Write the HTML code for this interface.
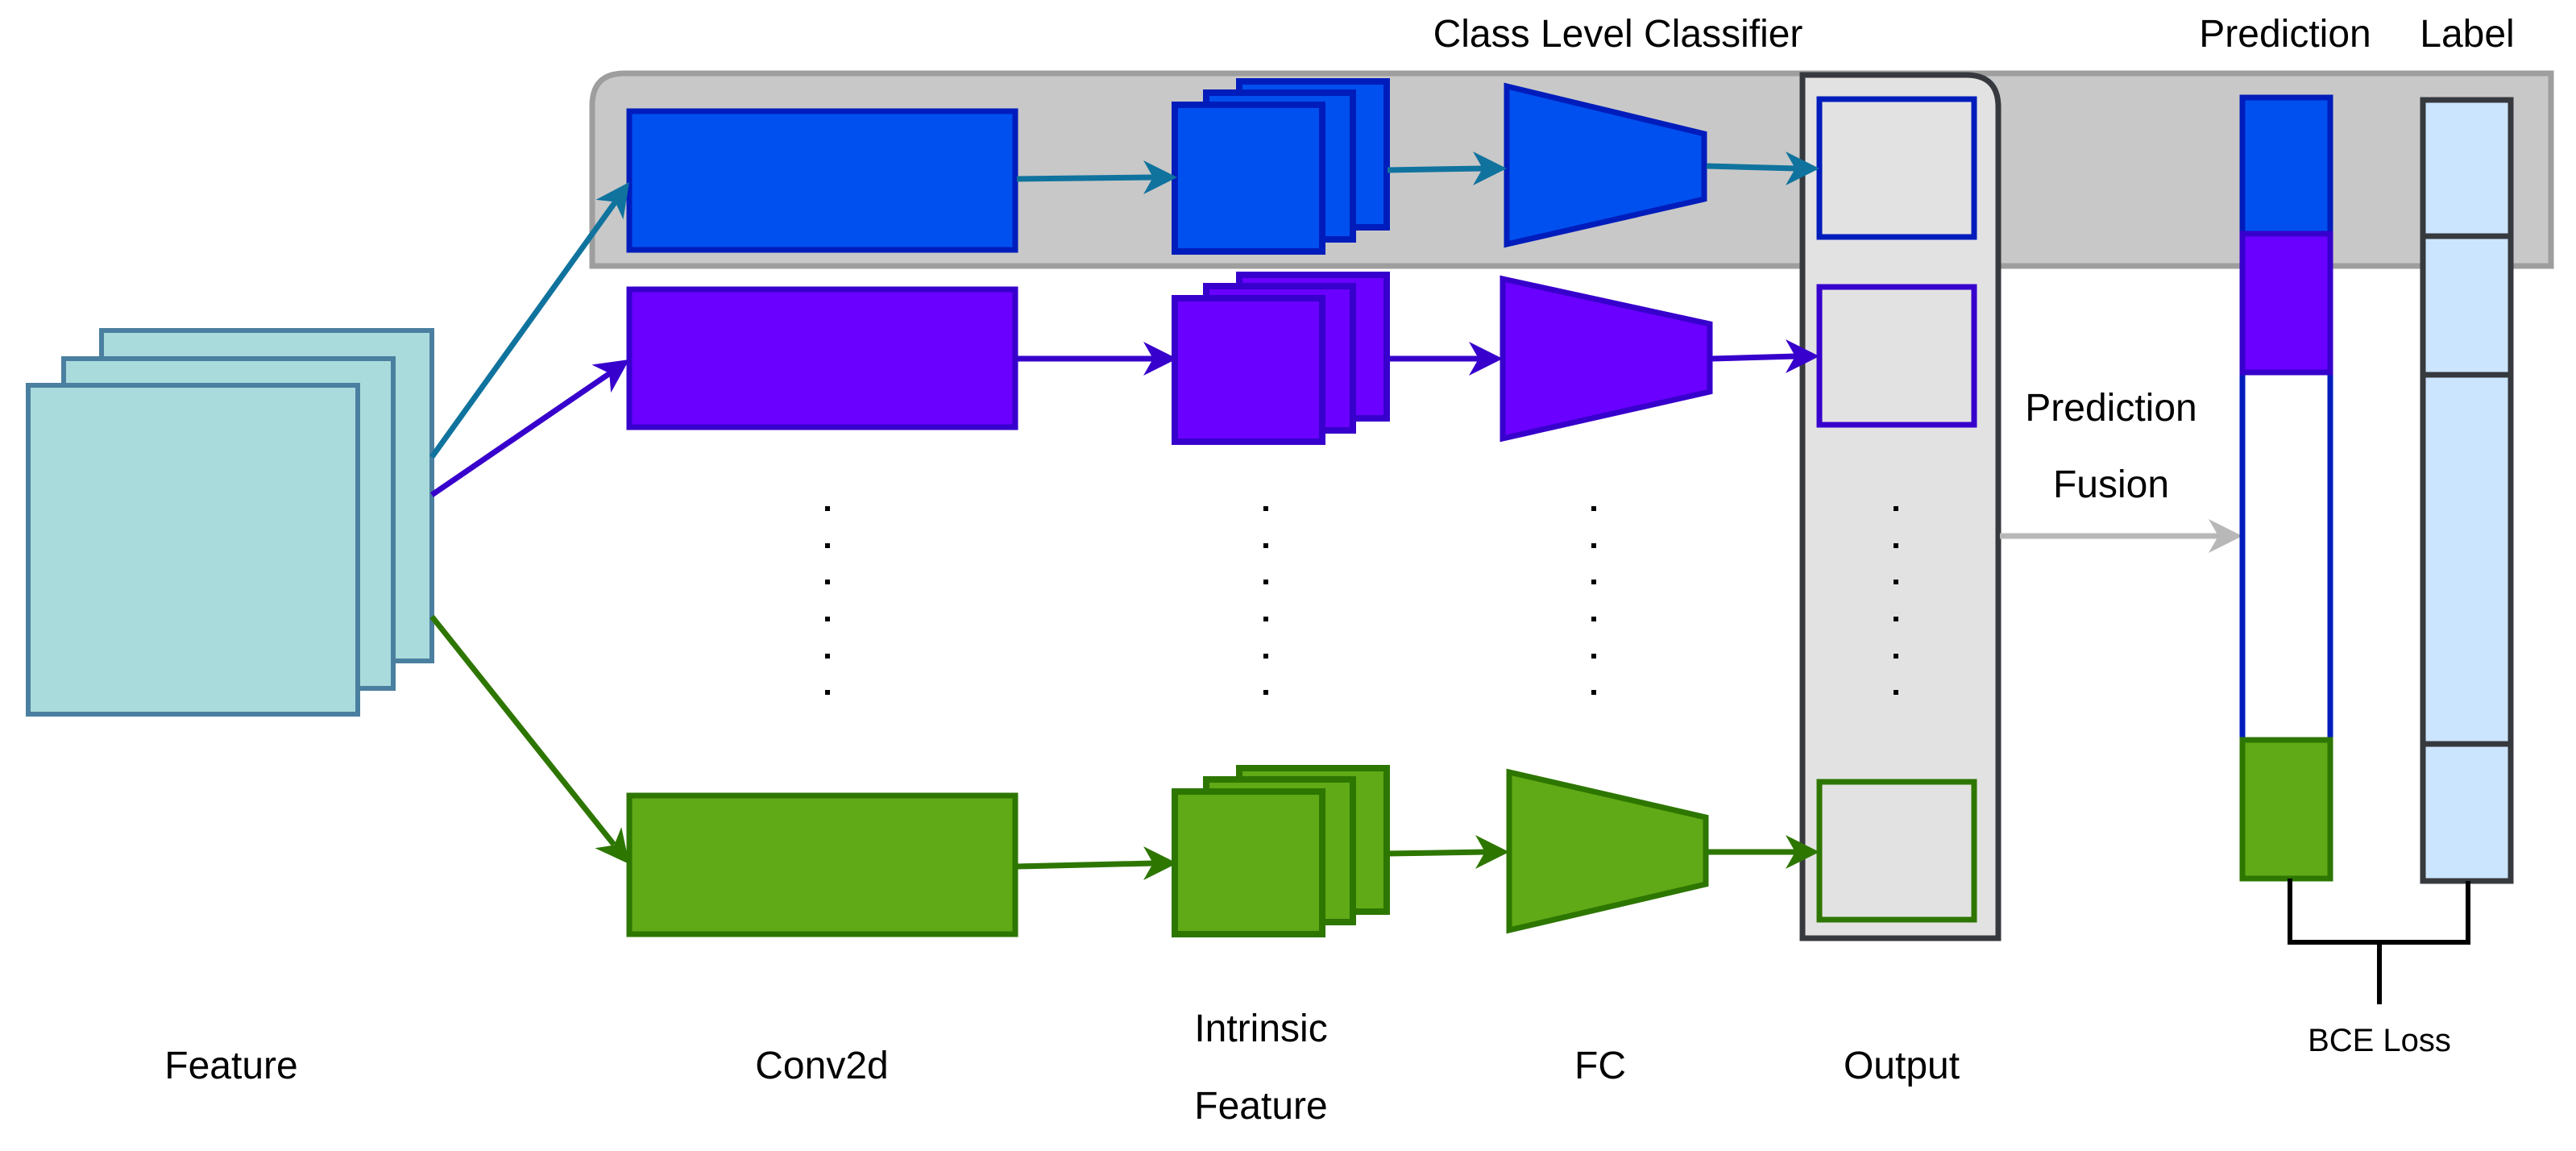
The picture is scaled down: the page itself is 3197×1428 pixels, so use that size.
<!DOCTYPE html>
<html><head><meta charset="utf-8"><style>
html,body{margin:0;padding:0;background:#fff;}
svg{display:block;}
text{font-family:"Liberation Sans",Arial,sans-serif;fill:#000;}
</style></head><body>
<svg width="3197" height="1428" viewBox="0 0 3197 1428" xmlns="http://www.w3.org/2000/svg">
<!-- gray band -->
<path d="M735,330 L735,131 Q735,91 775,91 L3166,91 L3166,330 Z" fill="#c8c8c8" stroke="#9e9e9e" stroke-width="7"/>
<!-- feature -->
<g fill="#a9dbdc" stroke="#4a7fa0" stroke-width="6">
<rect x="126" y="410" width="410" height="410"/>
<rect x="79" y="445" width="409" height="409"/>
<rect x="35" y="478" width="409" height="408"/>
</g>
<!-- conv boxes -->
<rect x="781" y="138" width="479" height="172" fill="#0050ef" stroke="#001dbc" stroke-width="7"/>
<rect x="781" y="359" width="479" height="171" fill="#6a00ff" stroke="#3700cc" stroke-width="7"/>
<rect x="781" y="987" width="479" height="172" fill="#60a917" stroke="#2d7600" stroke-width="7"/>
<!-- intrinsic stacks -->
<g fill="#0050ef" stroke="#001dbc" stroke-width="8">
<rect x="1538" y="101" width="183" height="181"/><rect x="1497" y="115" width="182" height="182"/><rect x="1458" y="130" width="183" height="182"/></g>
<g fill="#6a00ff" stroke="#3700cc" stroke-width="8">
<rect x="1538" y="341" width="183" height="178"/><rect x="1497" y="355" width="182" height="179"/><rect x="1458" y="370" width="183" height="178"/></g>
<g fill="#60a917" stroke="#2d7600" stroke-width="8">
<rect x="1538" y="953" width="183" height="178"/><rect x="1497" y="967" width="182" height="177"/><rect x="1458" y="982" width="183" height="177"/></g>
<!-- FC -->
<polygon points="1870,107 2115,166 2115,247 1870,303" fill="#0050ef" stroke="#001dbc" stroke-width="7"/>
<polygon points="1865,346 2122,402 2122,486 1865,544" fill="#6a00ff" stroke="#3700cc" stroke-width="7"/>
<polygon points="1873,958 2117,1014 2117,1097 1873,1154" fill="#60a917" stroke="#2d7600" stroke-width="7"/>
<!-- output panel -->
<path d="M2237,1164 L2237,93 L2440,93 Q2480,93 2480,133 L2480,1164 Z" fill="#e2e2e2" stroke="#36393d" stroke-width="7"/>
<rect x="2258" y="123" width="192" height="171" fill="#e2e2e2" stroke="#001dbc" stroke-width="7"/>
<rect x="2258" y="356" width="192" height="171" fill="#e2e2e2" stroke="#3700cc" stroke-width="7"/>
<rect x="2258" y="970" width="192" height="171" fill="#e2e2e2" stroke="#2d7600" stroke-width="7"/>
<!-- arrows -->
<g stroke-width="7" fill="none">
<line x1="536" y1="567" x2="764" y2="250" stroke="#10739e"/>
<line x1="536" y1="614" x2="757" y2="463" stroke="#3700cc"/>
<line x1="536" y1="765" x2="762" y2="1048" stroke="#2d7600"/>
<line x1="1262" y1="222" x2="1432" y2="220" stroke="#10739e"/>
<line x1="1262" y1="445" x2="1432" y2="445" stroke="#3700cc"/>
<line x1="1262" y1="1075" x2="1432" y2="1071" stroke="#2d7600"/>
<line x1="1722" y1="211" x2="1841" y2="209" stroke="#10739e"/>
<line x1="1722" y1="445" x2="1836" y2="445" stroke="#3700cc"/>
<line x1="1722" y1="1059" x2="1844" y2="1057" stroke="#2d7600"/>
<line x1="2118" y1="206" x2="2229" y2="209" stroke="#10739e"/>
<line x1="2125" y1="445" x2="2229" y2="442" stroke="#3700cc"/>
<line x1="2120" y1="1057" x2="2229" y2="1057" stroke="#2d7600"/>
<line x1="2482" y1="665" x2="2755" y2="665" stroke="#b8b8b8"/>
</g>
<g>
<polygon points="781,226 773.5,272.3 763.5,250.4 739.4,247.9" fill="#10739e"/>
<polygon points="781,446 758.2,487.1 756.2,463 734.4,452.5" fill="#3700cc"/>
<polygon points="781,1072 738.4,1052.3 762.3,1048.5 771.2,1026.1" fill="#2d7600"/>
<polygon points="1461,220 1419,199 1431,220 1419,241" fill="#10739e"/>
<polygon points="1461,445 1419,424 1431,445 1419,466" fill="#3700cc"/>
<polygon points="1461,1071 1419,1050 1431,1071 1419,1092" fill="#2d7600"/>
<polygon points="1870,209 1828,188 1840,209 1828,230" fill="#10739e"/>
<polygon points="1865,445 1823,424 1835,445 1823,466" fill="#3700cc"/>
<polygon points="1873,1057 1831,1036 1843,1057 1831,1078" fill="#2d7600"/>
<polygon points="2258,209 2216,188 2228,209 2216,230" fill="#10739e"/>
<polygon points="2258,442 2216,421 2228,442 2216,463" fill="#3700cc"/>
<polygon points="2258,1057 2216,1036 2228,1057 2216,1078" fill="#2d7600"/>
<polygon points="2783,665 2741,644 2753,665 2741,686" fill="#b8b8b8"/>
</g>
<!-- dots -->
<g fill="#000">
<rect x="1024" y="628" width="6" height="6"/><rect x="1024" y="674" width="6" height="6"/><rect x="1024" y="719" width="6" height="6"/><rect x="1024" y="765" width="6" height="6"/><rect x="1024" y="811" width="6" height="6"/><rect x="1024" y="856" width="6" height="6"/>
<rect x="1568" y="628" width="6" height="6"/><rect x="1568" y="674" width="6" height="6"/><rect x="1568" y="719" width="6" height="6"/><rect x="1568" y="765" width="6" height="6"/><rect x="1568" y="811" width="6" height="6"/><rect x="1568" y="856" width="6" height="6"/>
<rect x="1975" y="628" width="6" height="6"/><rect x="1975" y="674" width="6" height="6"/><rect x="1975" y="719" width="6" height="6"/><rect x="1975" y="765" width="6" height="6"/><rect x="1975" y="811" width="6" height="6"/><rect x="1975" y="856" width="6" height="6"/>
<rect x="2350" y="628" width="6" height="6"/><rect x="2350" y="674" width="6" height="6"/><rect x="2350" y="719" width="6" height="6"/><rect x="2350" y="765" width="6" height="6"/><rect x="2350" y="811" width="6" height="6"/><rect x="2350" y="856" width="6" height="6"/>
</g>
<!-- prediction bar -->
<rect x="2783" y="121" width="109" height="969" fill="#fff" stroke="#001dbc" stroke-width="7"/>
<rect x="2783" y="121" width="109" height="169" fill="#0050ef" stroke="#001dbc" stroke-width="7"/>
<rect x="2783" y="290" width="109" height="172" fill="#6a00ff" stroke="#3700cc" stroke-width="7"/>
<rect x="2783" y="918" width="109" height="172" fill="#60a917" stroke="#2d7600" stroke-width="7"/>
<!-- label bar -->
<rect x="3007" y="124" width="109" height="969" fill="#cce5ff" stroke="#36393d" stroke-width="7"/>
<g stroke="#36393d" stroke-width="7"><line x1="3007" y1="293" x2="3116" y2="293"/><line x1="3007" y1="465" x2="3116" y2="465"/><line x1="3007" y1="923" x2="3116" y2="923"/></g>
<!-- bracket -->
<path d="M2842,1090 L2842,1169 L3063,1169 L3063,1093 M2953,1169 L2953,1246" fill="none" stroke="#000" stroke-width="6"/>
<!-- text -->
<g font-size="48" text-anchor="middle">
<text x="2008" y="58">Class Level Classifier</text>
<text x="2836" y="58">Prediction</text>
<text x="3062" y="58">Label</text>
<text x="2620" y="522">Prediction</text>
<text x="2620" y="617">Fusion</text>
<text x="287" y="1338">Feature</text>
<text x="1020" y="1338">Conv2d</text>
<text x="1565" y="1292">Intrinsic</text>
<text x="1565" y="1388">Feature</text>
<text x="1986" y="1338">FC</text>
<text x="2360" y="1338">Output</text>
<text x="2953" y="1304" font-size="40">BCE Loss</text>
</g>
</svg>
</body></html>
